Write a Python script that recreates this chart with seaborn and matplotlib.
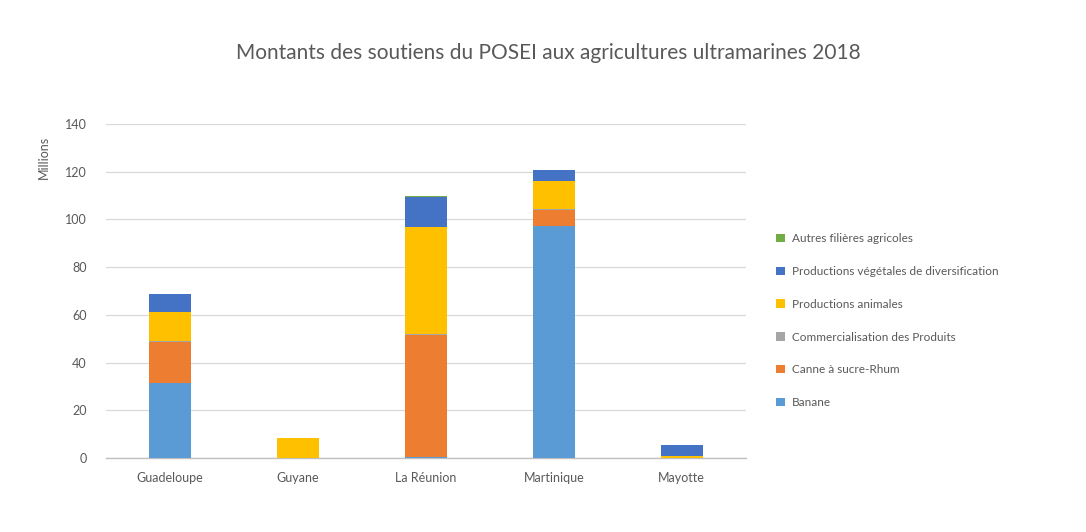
import numpy as np
import pandas as pd
import matplotlib
matplotlib.use("Agg")
import matplotlib.pyplot as plt
from matplotlib.patches import Patch
import seaborn as sns

# POSEI support by overseas department, 2018 (millions of euros)
regions = ["Guadeloupe", "Guyane", "La Réunion", "Martinique", "Mayotte"]

series_names = [
    "Banane",
    "Canne à sucre-Rhum",
    "Commercialisation des Produits",
    "Productions animales",
    "Productions végétales de diversification",
    "Autres filières agricoles",
]
banane = [31.4, 0.0, 0.5, 97.2, 0.0]
canne = [17.2, 0.0, 51.0, 6.8, 0.0]
commercialisation = [0.3, 0.0, 0.3, 0.3, 0.0]
animales = [12.5, 8.2, 45.0, 12.0, 1.0]
diversification = [7.2, 0.3, 12.6, 4.2, 4.5]
autres = [0.3, 0.0, 0.5, 0.2, 0.0]

series_values = [banane, canne, commercialisation, animales, diversification, autres]
colors = ["#5B9BD5", "#ED7D31", "#A5A5A5", "#FFC000", "#4472C4", "#70AD47"]

y_ticks = [0, 20, 40, 60, 80, 100, 120, 140]

sns.set_theme(style="white")
plt.rcParams["font.family"] = ["Lato", "DejaVu Sans"]

# Cumulative tops for each stacked layer
cum = np.cumsum(np.array(series_values), axis=0)

fig = plt.figure(figsize=(10.86, 5.32), dpi=100)
ax = fig.add_axes([0.0976, 0.139, 0.589, 0.628])

# Draw the tallest cumulative layer first, then cover it with the lower ones
for i in range(len(series_names) - 1, -1, -1):
    df = pd.DataFrame({"Région": regions, "Montant": cum[i]})
    sns.barplot(data=df, x="Région", y="Montant", color=colors[i],
                saturation=1, width=0.33, ax=ax, zorder=3,
                linewidth=0, edgecolor="none")

ax.set_ylim(0, 140)
ax.set_yticks(y_ticks)
ax.set_yticklabels([str(t) for t in y_ticks])
ax.set_xlim(-0.5, len(regions) - 0.5)
ax.yaxis.grid(True, color="#D9D9D9", linewidth=0.9, zorder=0)
ax.xaxis.grid(False)
for side in ["top", "right", "left"]:
    ax.spines[side].set_visible(False)
ax.spines["bottom"].set_color("#BFBFBF")
ax.spines["bottom"].set_linewidth(1.0)
ax.tick_params(axis="both", length=0, colors="#595959", labelsize=9)
ax.tick_params(axis="y", pad=14)
ax.tick_params(axis="x", pad=10)
ax.set_xlabel("")
ax.set_ylabel("Millions", color="#595959", fontsize=9)
ax.yaxis.set_label_coords(-0.088, 0.9)

fig.text(0.505, 0.9, "Montants des soutiens du POSEI aux agricultures ultramarines 2018",
         ha="center", va="center", fontsize=15, color="#595959")

handles = [Patch(facecolor=c, edgecolor="none") for c in colors]
leg = fig.legend(handles[::-1], series_names[::-1],
                 loc="upper left", bbox_to_anchor=(0.705, 0.582),
                 frameon=False, fontsize=8.5, labelcolor="#595959",
                 handlelength=0.7, handleheight=0.7, handletextpad=0.6,
                 labelspacing=1.85)

fig.savefig("out.png", dpi=100, facecolor="white")
